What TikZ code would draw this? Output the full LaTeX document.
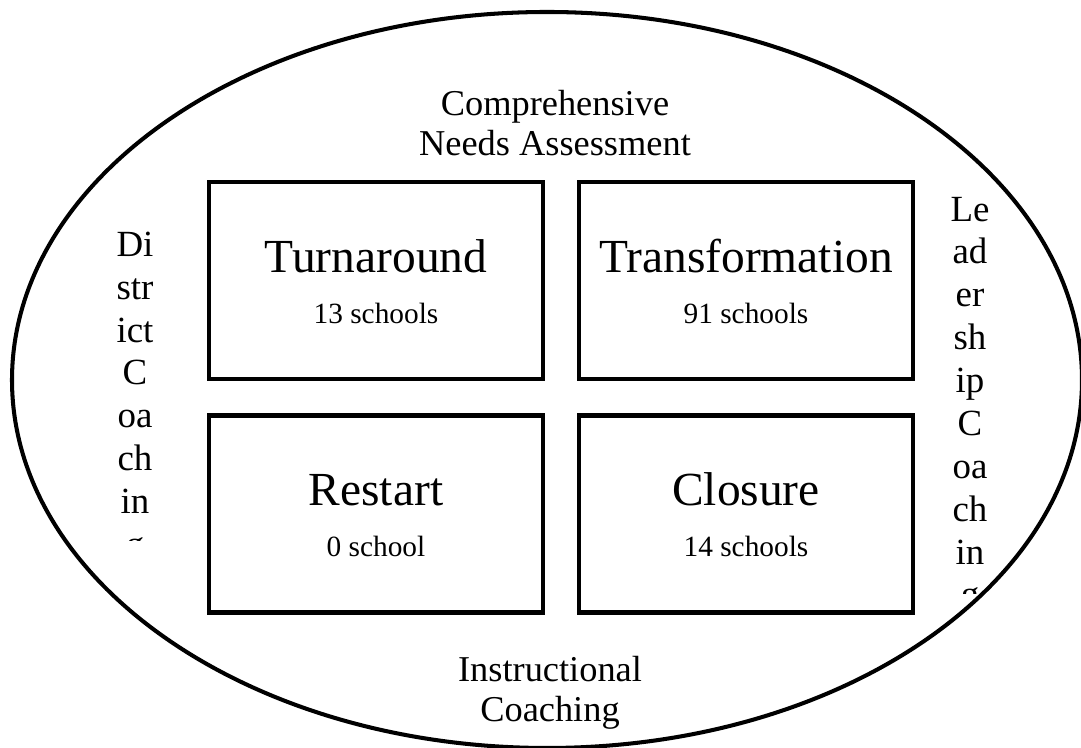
\documentclass[tikz,border=0pt]{standalone}
\usepackage{fontspec}
\setmainfont{Liberation Serif}
\usetikzlibrary{calc,positioning}

\begin{document}
\begin{tikzpicture}[
    box/.style={draw, line width=2.3pt, minimum width=6.68cm, minimum height=3.94cm, inner sep=0pt},
    title/.style={font=\fontsize{27}{30}\selectfont, anchor=base, inner sep=0pt},
    count/.style={font=\fontsize{16.7}{19}\selectfont, anchor=base, inner sep=0pt},
    label/.style={font=\fontsize{20.7}{22.7}\selectfont, align=center, inner sep=0pt},
    column/.style={font=\fontsize{21}{24.4}\selectfont, align=center, anchor=north, inner sep=0pt}]
  \useasboundingbox (0,0) rectangle (21.62,14.96);
  \clip (0,0) rectangle (21.62,14.96);
  \draw[line width=2.3pt] (10.94,7.36) ellipse [x radius=10.7, y radius=7.36];

  \node[box] (turn) at (7.52,9.35) {};
  \node[box] (trans) at (14.92,9.35) {};
  \node[box] (restart) at (7.52,4.68) {};
  \node[box] (closure) at (14.92,4.68) {};

  \node[title] (turnT) at ($(turn)+(0,0.16)$) {Turnaround};
  \node[count] (turnN) at ($(turn)+(0,-0.86)$) {13 schools};
  \node[title] (transT) at ($(trans)+(0,0.16)$) {Transformation};
  \node[count] (transN) at ($(trans)+(0,-0.86)$) {91 schools};
  \node[title] (restartT) at ($(restart)+(0,0.16)$) {Restart};
  \node[count] (restartN) at ($(restart)+(0,-0.86)$) {0 school};
  \node[title] (closureT) at ($(closure)+(0,0.16)$) {Closure};
  \node[count] (closureN) at ($(closure)+(0,-0.86)$) {14 schools};

  \node[label] (needs) at (11.1,12.5) {Comprehensive\\Needs Assessment};
  \node[label] (instr) at (11.0,1.1) {Instructional\\Coaching};

  \begin{scope}
    \clip (1.8,4.14) rectangle (3.6,10.96);
    \node[column] (district) at (2.7,10.33) {Di\\str\\ict\\C\\oa\\ch\\in\\g};
  \end{scope}
  \begin{scope}
    \clip (18.6,3.08) rectangle (20.2,11.36);
    \node[column] (leader) at (19.4,11.03) {Le\\ad\\er\\sh\\ip\\C\\oa\\ch\\in\\g};
  \end{scope}
\end{tikzpicture}
\end{document}
